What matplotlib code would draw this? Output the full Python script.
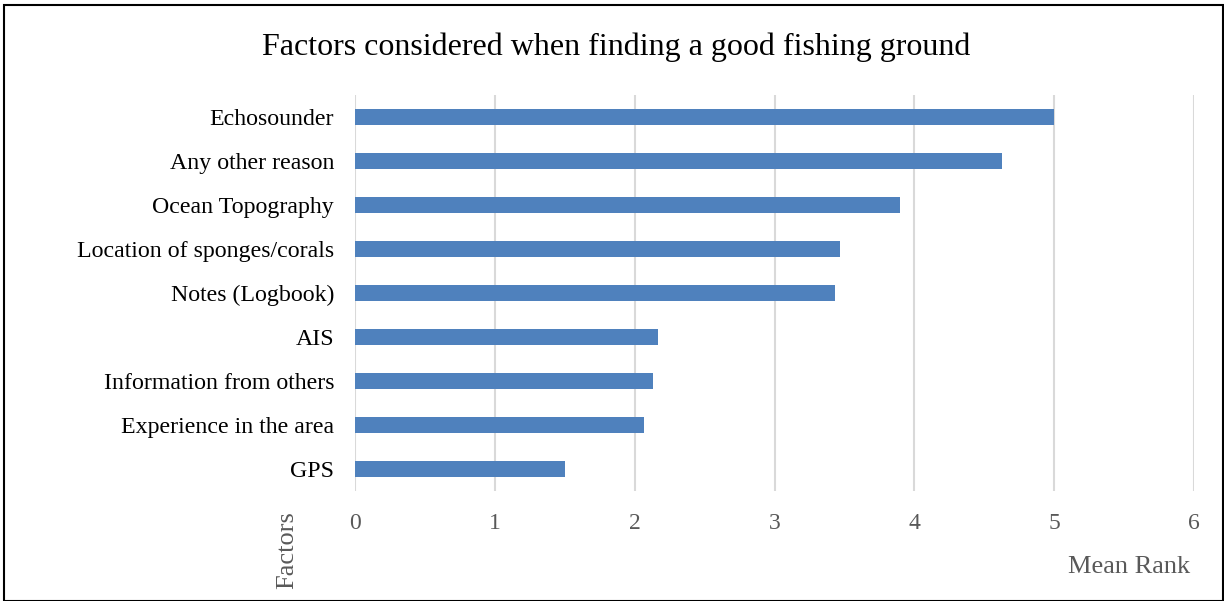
import matplotlib.pyplot as plt
from matplotlib.patches import Rectangle

# Mean rank per factor (top to bottom as shown)
factors = ["Echosounder", "Any other reason", "Ocean Topography",
           "Location of sponges/corals", "Notes (Logbook)", "AIS",
           "Information from others", "Experience in the area", "GPS"]
mean_rank = [5.00, 4.63, 3.90, 3.47, 3.43, 2.17, 2.13, 2.07, 1.50]
x_ticks = [0, 1, 2, 3, 4, 5, 6]

plt.rcParams['font.family'] = ['Liberation Serif', 'DejaVu Serif']

fig = plt.figure(figsize=(12.24, 6.01), dpi=100)
W, H = 1224, 601
ax = fig.add_axes([355 / W, 1 - 491 / H, (1194 - 355) / W, (491 - 95) / H])

ypos = list(range(len(factors)))
ax.barh(ypos, mean_rank, height=0.35, color='#4f81bd', zorder=3)
ax.set_ylim(len(factors) - 0.5, -0.5)
ax.set_xlim(0, 6)
ax.set_xticks(x_ticks)
ax.set_yticks(ypos)
ax.set_yticklabels(factors, fontsize=17.2, color='black')
ax.tick_params(axis='x', labelsize=17, labelcolor='#595959', length=0, pad=16)
ax.tick_params(axis='y', length=0, pad=15)
ax.grid(axis='x', color='#d9d9d9', linewidth=1.5, zorder=0)
for s in ax.spines.values():
    s.set_visible(False)

fig.text(616 / W, 1 - 47 / H, "Factors considered when finding a good fishing ground",
         ha='center', va='center', fontsize=23, color='black')
fig.text(1129 / W, 1 - 567 / H, "Mean Rank", ha='center', va='center',
         fontsize=19, color='#595959')
fig.text(287 / W, 1 - 550 / H, "Factors", ha='center', va='center',
         rotation=90, fontsize=19, color='#595959')

fig.patches.append(Rectangle((4 / W, 0), 1 - 4 / W - 1 / W, 1 - 5 / H,
                             transform=fig.transFigure, fill=False,
                             edgecolor='black', linewidth=1.5))

fig.savefig("out.png", dpi=100)
